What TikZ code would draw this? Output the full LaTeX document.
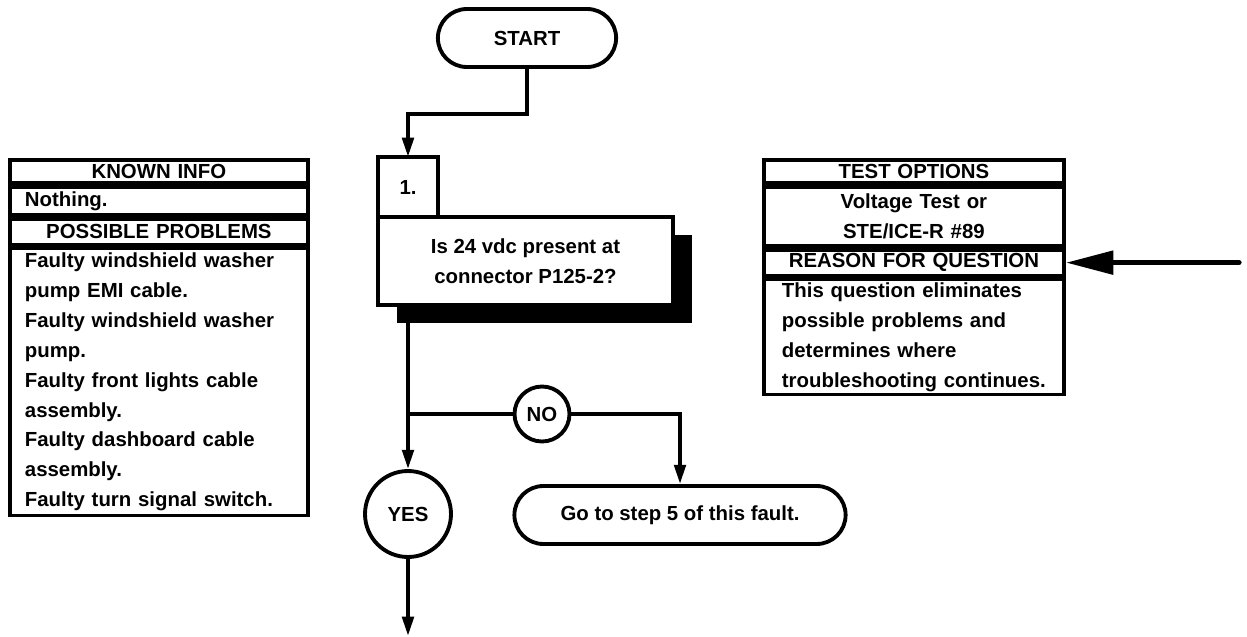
\documentclass[tikz,border=0pt]{standalone}
\usepackage{fontspec}
\setmainfont{Liberation Sans}
\usetikzlibrary{arrows.meta, positioning, shapes.misc, shadows}

\begin{document}
\begin{tikzpicture}[
  x=0.02cm, y=-0.02cm,
  node distance=0pt,
  every node/.style={font=\bfseries\fontsize{11.6}{17}\selectfont},
  box/.style={draw, line width=2.2pt, inner sep=0pt, align=center},
  lcell/.style={box, text width=5.36cm, inner xsep=0.3cm},
  rcell/.style={box, text width=5.28cm, inner xsep=0.36cm},
  pill/.style={draw, line width=2.2pt, rounded rectangle, align=center},
  ring/.style={draw, line width=2.2pt, circle, inner sep=0pt},
  ln/.style={line width=2.2pt},
  fl/.style={ln, -{Triangle[length=11pt, width=6.5pt]}},
  big/.style={line width=3.2pt, line cap=round, -{Triangle[length=27pt, width=13pt]}}
]
\useasboundingbox (0,0) rectangle (1247,636);

% known info / possible problems
\node[lcell, anchor=north west, minimum height=0.46cm] (knownhd) at (8,158) {KNOWN INFO};
\node[lcell, below=of knownhd, minimum height=0.56cm, align=left] (knowntx) {Nothing.};
\node[lcell, below=of knowntx, minimum height=0.52cm] (probhd) {POSSIBLE PROBLEMS};
\node[lcell, below=of probhd, minimum height=5.34cm, align=left] (probtx) {Faulty windshield washer\\ pump EMI cable.\\ Faulty windshield washer\\ pump.\\ Faulty front lights cable\\ assembly.\\ Faulty dashboard cable\\ assembly.\\ Faulty turn signal switch.};

% test options / reason
\node[rcell, anchor=north west, minimum height=0.46cm] (testhd) at (762,158) {TEST OPTIONS};
\node[rcell, below=of testhd, minimum height=1.18cm] (testtx) {Voltage Test or\\ STE/ICE-R \#89};
\node[rcell, below=of testtx, minimum height=0.52cm] (reason) {REASON FOR QUESTION};
\node[rcell, below=of reason, minimum height=2.3cm, align=left] (reasontx) {This question eliminates\\ possible problems and\\ determines where\\ troubleshooting continues.};

% flow
\node[pill, minimum width=3.8cm, minimum height=1.16cm] (start) at (527,38) {START};
\node[box, outer sep=0pt, minimum size=1.2cm, anchor=north west] (one) at (378,157) {1.};
\node[box, outer sep=0pt, fill=white, below=of one.south west, anchor=north west, minimum width=5.9cm, minimum height=1.76cm,
      drop shadow={shadow xshift=0.38cm, shadow yshift=-0.36cm, fill=black, opacity=1}] (q) {Is 24 vdc present at\\ connector P125-2?};
\node[ring, minimum size=1.1cm] (no) at (542,414) {NO};
\node[ring, minimum size=1.72cm] (yes) at (408,514) {YES};
\node[pill, minimum width=6.86cm, minimum height=1.16cm] (go) at (680,515) {Go to step 5 of this fault.};
\coordinate (next) at (408,636);
\path (reason.east) ++(173,0) coordinate (tail);

\draw[fl] (start.south) -- ++(0,45) -| (one.north);
\draw[fl] (one.south |- q.south) -- (yes.north);
\draw[ln] (no.west -| yes.north) -- (no.west);
\draw[fl] (no.east) -| (go.north);
\draw[fl] (yes.south) -- (next);
\draw[big] (tail) -- (reason.east);
\end{tikzpicture}
\end{document}
